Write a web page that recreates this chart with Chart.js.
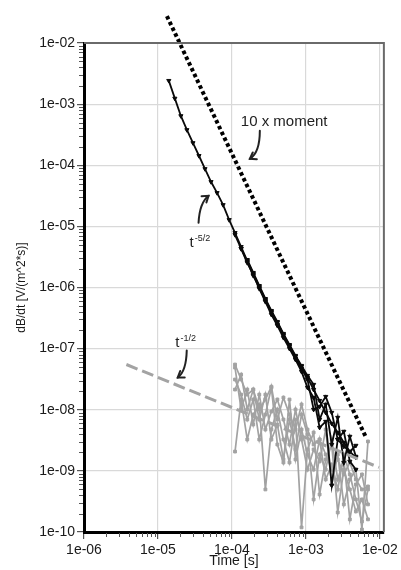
<!DOCTYPE html>
<html><head><meta charset="utf-8">
<script src="https://cdn.jsdelivr.net/npm/chart.js@4.4.1/dist/chart.umd.min.js"></script>
<style>html,body{margin:0;padding:0;background:#fff;}#wrap{width:401px;height:570px;position:relative;}</style>
</head><body><div id="wrap"><canvas id="c"></canvas></div>
<script>
// ---- data ----
const timeGrid = [1.40e-5, 1.69e-5, 2.04e-5, 2.46e-5, 2.97e-5, 3.58e-5, 4.32e-5, 5.21e-5, 6.29e-5, 7.59e-5, 9.16e-5,
  1.10e-4, 1.33e-4, 1.61e-4, 1.94e-4, 2.34e-4, 2.83e-4, 3.41e-4, 4.11e-4, 4.96e-4, 5.99e-4, 7.23e-4, 8.72e-4,
  1.05e-3, 1.27e-3, 1.53e-3, 1.85e-3, 2.23e-3, 2.69e-3, 3.25e-3, 3.92e-3, 4.73e-3, 5.71e-3, 6.89e-3];

// black curves (t^-5/2 family)
const blackMainStart = 0;
const blackMain = [2.42e-3, 1.24e-3, 6.41e-4, 3.79e-4, 2.32e-4, 1.43e-4, 8.73e-5, 5.36e-5, 3.54e-5, 2.25e-5, 1.28e-5,
  7.86e-6, 4.64e-6, 2.74e-6, 1.68e-6, 1.03e-6, 6.32e-7, 4.03e-7, 2.66e-7, 1.69e-7, 1.12e-7, 7.40e-8, 5.08e-8,
  3.36e-8, 2.14e-8, 1.41e-8, 9.0e-9, 5.96e-9, 4.24e-9, 2.91e-9, 2.07e-9, 1.66e-9];
const black2Start = 11;
const black2 = [7.29e-6, 4.31e-6, 2.64e-6, 1.56e-6, 9.93e-7, 6.08e-7, 3.87e-7, 2.47e-7, 1.63e-7, 1.08e-7, 6.87e-8, 4.71e-8,
  3.11e-8, 1.01e-8, 1.13e-8, 1.64e-8, 9.0e-9, 3.26e-9, 4.41e-9, 1.43e-9, 1.05e-9];
const black3Start = 12;
const black3 = [4.31e-6, 2.54e-6, 1.62e-6, 9.55e-7, 5.86e-7, 3.60e-7, 2.38e-7, 1.51e-7, 1.0e-7, 6.61e-8, 4.21e-8,
  2.31e-8, 1.58e-8, 5.12e-9, 6.41e-9, 5.77e-10, 3.26e-9, 2.51e-9, 2.07e-9, 2.60e-9];
const black4Start = 13;
const black4 = [2.85e-6, 1.75e-6, 1.07e-6, 6.56e-7, 4.18e-7, 2.76e-7, 1.76e-7, 1.16e-7, 7.69e-8, 5.27e-8,
  3.62e-8, 2.58e-8, 6.92e-9, 1.22e-8, 2.70e-9, 7.46e-9, 1.37e-9, 3.65e-9, 1.72e-9];

// grey curves (noisy late-time records)
const greyStart = 11;
const grey1 = [5.49e-8, 3.12e-8, 1.77e-8, 2.14e-8, 1.01e-8, 1.47e-8, 2.39e-8, 6.92e-9, 1.58e-8, 8.35e-9, 4.75e-9, 1.22e-8,
  4.75e-9, 2.70e-9, 3.26e-9, 1.85e-9, 1.05e-9, 1.54e-9, 8.74e-10, 1.37e-9, 7.24e-10, 4.97e-10, 5.56e-10];
const grey2 = [2.07e-9, 1.47e-8, 3.26e-9, 8.35e-9, 1.22e-8, 4.97e-10, 4.75e-9, 1.01e-8, 3.26e-9, 1.37e-9, 6.92e-9, 1.19e-10,
  2.24e-9, 4.24e-9, 4.12e-10, 1.54e-9, 2.70e-9, 2.09e-10, 1.05e-9, 4.97e-10, 2.17e-10, 3.41e-10, 1.61e-10];
const grey3 = [3.12e-8, 1.77e-8, 6.92e-9, 1.47e-8, 3.26e-9, 8.35e-9, 2.31e-8, 2.70e-9, 1.37e-9, 1.47e-8, 1.54e-9, 4.75e-9,
  1.85e-9, 1.05e-9, 3.26e-9, 7.24e-10, 1.27e-9, 4.97e-10, 1.85e-9, 8.74e-10, 3.41e-10, 1.49e-10, 4.97e-10];
const grey4 = [4.90e-8, 1.01e-8, 2.14e-8, 5.74e-9, 1.77e-8, 4.75e-9, 9.35e-9, 1.47e-8, 6.92e-9, 2.70e-9, 1.01e-8, 3.26e-9,
  1.05e-9, 2.24e-9, 1.43e-9, 4.75e-9, 6.0e-10, 1.85e-9, 2.83e-10, 7.24e-10, 1.05e-9, 1.10e-10, 3.03e-9];
const grey5 = [2.14e-8, 3.76e-8, 1.01e-8, 2.14e-8, 6.92e-9, 1.77e-8, 3.26e-9, 5.74e-9, 1.54e-9, 6.92e-9, 2.24e-9, 8.35e-9,
  3.94e-9, 3.41e-10, 1.85e-9, 1.05e-9, 3.26e-9, 7.24e-10, 1.54e-9, 1.61e-10, 6.0e-10, 8.74e-10, 2.83e-10];

// reference slopes
const momentT = [1.32e-5, 6.5e-3];
const momentV = [2.76e-2, 3.5e-9];
const halfT = [3.74e-6, 9.7e-3];
const halfV = [5.5e-8, 1.14e-9];

// axes
const xMin = 1e-6, xMax = 1.131e-2;
const yMin = 1e-10, yMax = 1e-2;
const xTickLabels = ['1e-06', '1e-05', '1e-04', '1e-03', '1e-02'];   // exponents -6..-2
const yTickLabels = ['1e-10', '1e-09', '1e-08', '1e-07', '1e-06', '1e-05', '1e-04', '1e-03', '1e-02']; // -10..-2
const xTitle = 'Time [s]';
const yTitle = 'dB/dt [V/(m^2*s)]';

// ---- helpers ----
const FONT = '"Liberation Sans", Arial, sans-serif';
function pts(start, vals) { return vals.map((v, i) => ({ x: timeGrid[start + i], y: v })); }
function pairs(ts, vs) { return ts.map((t, i) => ({ x: t, y: vs[i] })); }
function isMajor(v) { const l = Math.log10(v); return Math.abs(l - Math.round(l)) < 1e-9; }
function decadeTicks(min, max) {
  const out = [];
  for (let e = Math.floor(Math.log10(min)); e <= Math.ceil(Math.log10(max)); e++) {
    for (let m = 1; m <= 9; m++) {
      const v = Number(m + 'e' + e);
      if (v >= min * 0.999999 && v <= max * 1.000001) out.push({ value: v, major: m === 1 });
    }
  }
  return out;
}

const blackStyle = { borderColor: '#0a0a0a', backgroundColor: '#0a0a0a', borderWidth: 1.8, pointStyle: 'triangle', rotation: 180, pointRadius: 2.4, pointBorderWidth: 1, fill: false, tension: 0 };
const greyStyle = { borderColor: '#a2a2a2', backgroundColor: '#a2a2a2', borderWidth: 1.7, pointStyle: 'rect', pointRadius: 2, pointBorderWidth: 1, fill: false, tension: 0 };

const datasets = [
  { label: '10 x moment', data: pairs(momentT, momentV), borderColor: '#000', borderWidth: 4, borderDash: [3.6, 2.8], pointRadius: 0, clip: false, fill: false },
  { label: 't^-1/2', data: pairs(halfT, halfV), borderColor: '#a3a3a3', borderWidth: 3, borderDash: [12, 5], pointRadius: 0, fill: false },
  Object.assign({ label: 'black 1', data: pts(blackMainStart, blackMain) }, blackStyle),
  Object.assign({ label: 'black 2', data: pts(black2Start, black2) }, blackStyle),
  Object.assign({ label: 'black 3', data: pts(black3Start, black3) }, blackStyle),
  Object.assign({ label: 'black 4', data: pts(black4Start, black4) }, blackStyle),
  Object.assign({ label: 'grey 1', data: pts(greyStart, grey1) }, greyStyle),
  Object.assign({ label: 'grey 2', data: pts(greyStart, grey2) }, greyStyle),
  Object.assign({ label: 'grey 3', data: pts(greyStart, grey3) }, greyStyle),
  Object.assign({ label: 'grey 4', data: pts(greyStart, grey4) }, greyStyle),
  Object.assign({ label: 'grey 5', data: pts(greyStart, grey5) }, greyStyle),
];

// annotations anchored at data coordinates; arrow offsets in px from anchor
const notes = [
  { t: 1.318e-4, v: 4.41e-4, text: '10 x moment', sup: '', arrow: { tail: [19, 5], ctrl: [19, 27], tip: [9, 33] } },
  { t: 2.672e-5, v: 4.64e-6, text: 't', sup: '-5/2', arrow: { tail: [9, -24], ctrl: [10, -44], tip: [19, -51] } },
  { t: 1.711e-5, v: 1.08e-7, text: 't', sup: '-1/2', arrow: { tail: [11.5, 4], ctrl: [11, 25], tip: [2.5, 31] } },
];

const decor = {
  id: 'decor',
  afterDraw(chart) {
    const { ctx, chartArea: a, scales } = chart;
    ctx.save();
    // top / right frame
    ctx.strokeStyle = '#6a6a6a'; ctx.lineWidth = 2;
    ctx.beginPath(); ctx.moveTo(a.left, a.top); ctx.lineTo(a.right, a.top); ctx.lineTo(a.right, a.bottom); ctx.stroke();
    // minor ticks
    ctx.strokeStyle = '#555'; ctx.lineWidth = 1;
    scales.y.ticks.forEach(tk => {
      if (tk.major) return;
      const y = Math.round(scales.y.getPixelForValue(tk.value)) + 0.5;
      ctx.beginPath(); ctx.moveTo(a.left - 5, y); ctx.lineTo(a.left - 1, y); ctx.stroke();
    });
    scales.x.ticks.forEach(tk => {
      if (tk.major) return;
      const x = Math.round(scales.x.getPixelForValue(tk.value)) + 0.5;
      ctx.beginPath(); ctx.moveTo(x, a.bottom + 1); ctx.lineTo(x, a.bottom + 5); ctx.stroke();
    });
    // annotations
    notes.forEach(n => {
      const x0 = scales.x.getPixelForValue(n.t), y0 = scales.y.getPixelForValue(n.v);
      ctx.fillStyle = '#222'; ctx.textBaseline = 'alphabetic'; ctx.textAlign = 'left';
      ctx.font = '15px ' + FONT;
      ctx.fillText(n.text, x0, y0);
      if (n.sup) {
        const w = ctx.measureText(n.text).width;
        ctx.font = '9px ' + FONT;
        ctx.fillText(n.sup, x0 + w + 1, y0 - 6);
      }
      const ar = n.arrow;
      const tx = x0 + ar.tip[0], ty = y0 + ar.tip[1];
      const cx = x0 + ar.ctrl[0], cy = y0 + ar.ctrl[1];
      ctx.strokeStyle = '#222'; ctx.lineWidth = 2; ctx.lineCap = 'round';
      ctx.beginPath(); ctx.moveTo(x0 + ar.tail[0], y0 + ar.tail[1]); ctx.quadraticCurveTo(cx, cy, tx, ty); ctx.stroke();
      const ang = Math.atan2(ty - cy, tx - cx);
      const L = 7, spread = 0.6;
      ctx.beginPath();
      ctx.moveTo(tx - L * Math.cos(ang - spread), ty - L * Math.sin(ang - spread));
      ctx.lineTo(tx, ty);
      ctx.lineTo(tx - L * Math.cos(ang + spread), ty - L * Math.sin(ang + spread));
      ctx.stroke();
    });
    ctx.restore();
  }
};

new Chart(document.getElementById('c'), {
  type: 'line',
  data: { datasets },
  options: {
    responsive: true, maintainAspectRatio: false, animation: false,
    layout: { padding: { top: 43, right: 13, left: 0, bottom: 0 } },
    plugins: { legend: { display: false }, tooltip: { enabled: false } },
    scales: {
      x: {
        type: 'logarithmic', min: xMin, max: xMax,
        afterBuildTicks: s => { s.ticks = decadeTicks(xMin, xMax); },
        afterFit: s => { s.height = 38; },
        ticks: {
          autoSkip: false, maxRotation: 0, minRotation: 0, padding: 3, color: '#1a1a1a',
          font: { family: FONT, size: 14 },
          callback: v => isMajor(v) ? xTickLabels[Math.round(Math.log10(v)) + 6] : ''
        },
        grid: {
          color: c => (c.tick && isMajor(c.tick.value)) ? '#d9d9d9' : 'rgba(0,0,0,0)',
          tickColor: c => (c.tick && isMajor(c.tick.value)) ? '#555' : 'rgba(0,0,0,0)',
          tickLength: 7, lineWidth: 1.2
        },
        border: { display: true, color: '#000', width: 3 },
        title: { display: true, text: xTitle, color: '#1a1a1a', font: { family: FONT, size: 14 }, padding: { top: 0, bottom: 0 } }
      },
      y: {
        type: 'logarithmic', min: yMin, max: yMax,
        afterBuildTicks: s => { s.ticks = decadeTicks(yMin, yMax); },
        afterFit: s => { s.width = 84; },
        ticks: {
          autoSkip: false, padding: 2, color: '#1a1a1a',
          font: { family: FONT, size: 14 },
          callback: v => isMajor(v) ? yTickLabels[Math.round(Math.log10(v)) + 10] : ''
        },
        grid: {
          color: c => (c.tick && isMajor(c.tick.value)) ? '#d9d9d9' : 'rgba(0,0,0,0)',
          tickColor: c => (c.tick && isMajor(c.tick.value)) ? '#555' : 'rgba(0,0,0,0)',
          tickLength: 7, lineWidth: 1.2
        },
        border: { display: true, color: '#000', width: 3 },
        title: { display: true, text: yTitle, color: '#1a1a1a', font: { family: FONT, size: 12 }, padding: { top: 14, bottom: 0 } }
      }
    }
  },
  plugins: [decor]
});
</script></body></html>
